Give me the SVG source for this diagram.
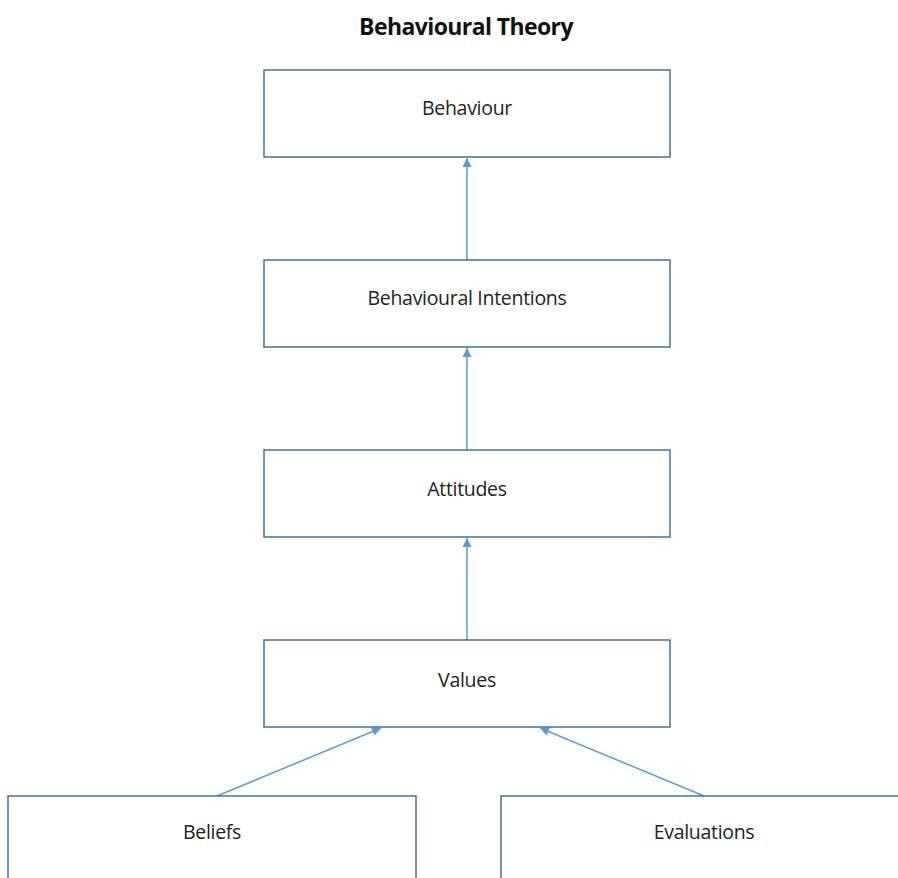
<svg xmlns="http://www.w3.org/2000/svg" width="898" height="878" viewBox="0 0 898 878">
  <defs>
    <marker id="arrow" markerWidth="12" markerHeight="12" refX="10" refY="6" orient="auto" markerUnits="userSpaceOnUse">
      <path d="M1,1.5 L10,6 L1,10.5 Z" fill="#5B9BD5"/>
    </marker>
    <style>
      .box { fill: #ffffff; stroke: #41719C; stroke-width: 1.5; }
      .label { font-family: "Open Sans", "Liberation Sans", sans-serif; font-size: 19.5px; fill: #222222; text-anchor: middle; letter-spacing: -0.3px; }
      .title { font-family: "Open Sans", "Liberation Sans", sans-serif; font-size: 23px; font-weight: bold; fill: #111111; text-anchor: middle; letter-spacing: -0.6px; }
      .link { stroke: #5B9BD5; stroke-width: 1.5; fill: none; marker-end: url(#arrow); }
    </style>
  </defs>
  <rect width="898" height="878" fill="#ffffff"/>
  <text class="title" x="466" y="35">Behavioural Theory</text>

  <g id="connectors">
    <line class="link" x1="467" y1="260" x2="467" y2="158"/>
    <line class="link" x1="467" y1="450" x2="467" y2="348"/>
    <line class="link" x1="467" y1="640" x2="467" y2="538"/>
    <line class="link" x1="217" y1="796" x2="381" y2="728"/>
    <line class="link" x1="704" y1="796" x2="540" y2="728"/>
  </g>

  <g id="behaviour">
    <rect class="box" x="264" y="70" width="406" height="87"/>
    <text class="label" x="467" y="115">Behaviour</text>
  </g>
  <g id="intentions">
    <rect class="box" x="264" y="260" width="406" height="87"/>
    <text class="label" x="467" y="305">Behavioural Intentions</text>
  </g>
  <g id="attitudes">
    <rect class="box" x="264" y="450" width="406" height="87"/>
    <text class="label" x="467" y="496">Attitudes</text>
  </g>
  <g id="values">
    <rect class="box" x="264" y="640" width="406" height="87"/>
    <text class="label" x="467" y="687">Values</text>
  </g>
  <g id="beliefs">
    <rect class="box" x="8" y="796" width="408" height="100"/>
    <text class="label" x="212" y="839">Beliefs</text>
  </g>
  <g id="evaluations">
    <rect class="box" x="501" y="796" width="410" height="100"/>
    <text class="label" x="704" y="839">Evaluations</text>
  </g>
</svg>
